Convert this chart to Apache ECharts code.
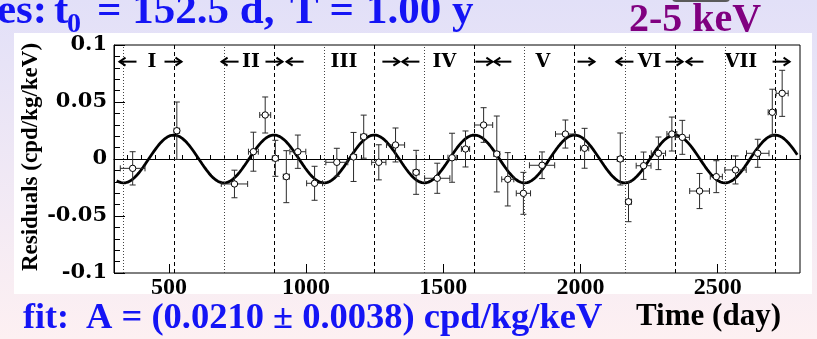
<!DOCTYPE html>
<html><head><meta charset="utf-8">
<script src="https://cdn.jsdelivr.net/npm/echarts@6/dist/echarts.min.js"></script>
<style>html,body{margin:0;padding:0;background:#fff;}#c{width:817px;height:339px;}</style>
</head><body><div id="c"></div>
<script>
// ---- data ----
const days      = [368, 529, 739, 808, 851, 888, 928, 970, 1031, 1112, 1173, 1210, 1265, 1326, 1401, 1478, 1532, 1581, 1647, 1695, 1735, 1792, 1860, 1945, 2015, 2145, 2175, 2230, 2284, 2333, 2371, 2434, 2495, 2565, 2646, 2699, 2735];
const residuals = [-0.0082, 0.0248, -0.0219, 0.0064, 0.0386, 0.0006, -0.0155, 0.0064, -0.0213, -0.0029, 0.0018, 0.0196, -0.0029, 0.0123, -0.0117, -0.0169, 0.0011, 0.0088, 0.0298, 0.0044, -0.0178, -0.0301, -0.0055, 0.0219, 0.0094, 0.0000, -0.0375, -0.0059, 0.0050, 0.0219, 0.0190, -0.0281, -0.0155, -0.0096, 0.0050, 0.0410, 0.0576];
const dayErr    = [45, 10, 48, 18, 20, 11, 11, 29, 29, 40, 11, 11, 26, 33, 11, 46, 15, 15, 33, 11, 22, 26, 46, 36, 15, 11, 11, 27, 26, 18, 26, 36, 22, 39, 41, 15, 22];
const resErr    = [0.0146, 0.0252, 0.0121, 0.0171, 0.0158, 0.0158, 0.0228, 0.0146, 0.0149, 0.0123, 0.0215, 0.0189, 0.0154, 0.0149, 0.0193, 0.0132, 0.0215, 0.0158, 0.0152, 0.0333, 0.0234, 0.0184, 0.0117, 0.0123, 0.0175, 0.0228, 0.0175, 0.0120, 0.0143, 0.0149, 0.0149, 0.0154, 0.0140, 0.0123, 0.0123, 0.0202, 0.0202];

// fit: A cos(2pi/T (t - t0))
const fitA = 0.0210, fitT0 = 152.5, fitPeriod = 365.25;
const fitStart = 310, fitEnd = 2790;

const peakDays   = [517.75, 883, 1248.25, 1613.5, 1978.75, 2344, 2709.25];
const troughDays = [335.1, 700.4, 1065.6, 1430.9, 1796.1, 2161.4, 2526.6];

const cycleNames = ['I', 'II', 'III', 'IV', 'V', 'VI', 'VII'];
const cycleStart = [320, 692, 929, 1351, 1686, 2131, 2386];
const cycleEnd   = [546, 914, 1340, 1679, 2051, 2372, 2762];
const cycleMid   = [438, 799, 1138, 1504, 1863, 2252, 2585];
const cycleLevel = 0.0854;

const xLabels = [500, 1000, 1500, 2000, 2500];
const yLabels = [-0.1, -0.05, 0, 0.05, 0.1];

// ---- build ----
const pts = days.map((d, i) => [d, residuals[i], dayErr[i], resErr[i]]);
const fit = [];
for (let t = fitStart; t <= fitEnd; t += 4) {
  fit.push([t, fitA * Math.cos(2 * Math.PI / fitPeriod * (t - fitT0))]);
}
const cycles = cycleNames.map((n, i) => [cycleStart[i], cycleEnd[i], cycleMid[i], cycleLevel, n]);

const serif = '"Liberation Serif", "Times New Roman", serif';
const wideSerif = '"DejaVu Serif", serif';
const blue = '#1414f5';

const chart = echarts.init(document.getElementById('c'), null, {renderer: 'canvas'});
const markLines = [];
peakDays.forEach(d => markLines.push({xAxis: d, lineStyle: {type: [4, 3], color: '#000', width: 1}}));
troughDays.forEach(d => markLines.push({xAxis: d, lineStyle: {type: [1, 2], color: '#444', width: 1}}));
markLines.push({yAxis: 0, lineStyle: {type: 'solid', color: '#000', width: 1}});

function t(text, x, y, size, fill) {
  return {type: 'text', style: {text: text, x: x, y: y, font: 'bold ' + size + 'px ' + serif, fill: fill, textVerticalAlign: 'middle'}};
}

chart.setOption({
  animation: false,
  backgroundColor: 'transparent',
  graphic: [
    {type: 'rect', z: -20, shape: {x: 0, y: 0, width: 817, height: 339},
     style: {fill: {type: 'linear', x: 0, y: 0, x2: 0, y2: 1,
       colorStops: [{offset: 0, color: '#e2e0f8'}, {offset: 1, color: '#fdf0f2'}]}}},
    {type: 'rect', z: -19, shape: {x: 672, y: -8, width: 58, height: 10, r: 4},
     style: {fill: '#5a5a5a'}},
    {type: 'rect', z: -18, shape: {x: 14, y: 33, width: 798, height: 261}, style: {fill: '#ffffff'}},
    // title pieces
    t('es:', -3, 12, 43, blue),
    t('t', 54, 12, 43, blue),
    t('0', 67, 25, 28, blue),
    t('= 152.5 d,', 97, 12, 43, blue),
    t('T =', 290, 12, 43, blue),
    t('1.00 y', 366, 12, 43, blue),
    t('2-5 keV', 629, 21, 40, '#800080'),
    // bottom texts
    t('fit:', 23, 319, 36, blue),
    t('A = (0.0210 \u00b1 0.0038) cpd/kg/keV', 86, 319, 36.5, blue),
    t('Time (day)', 636, 317, 31, '#000'),
    {type: 'text', x: 31, y: 157, rotation: Math.PI / 2,
     style: {text: 'Residuals (cpd/kg/keV)', x: 0, y: 0, font: 'bold 23px ' + serif, fill: '#000', textAlign: 'center', textVerticalAlign: 'middle'}}
  ],
  grid: {left: 114, top: 45, width: 686, height: 228, show: true, borderColor: '#000', borderWidth: 1, backgroundColor: 'transparent'},
  xAxis: [
    {type: 'value', min: 300, max: 2800, interval: 50,
     axisLine: {show: true, lineStyle: {color: '#000', width: 1}},
     axisTick: {show: true, inside: true, length: 4, lineStyle: {color: '#000'}},
     axisLabel: {margin: 3, color: '#000', fontFamily: serif, fontWeight: 'bold', fontSize: 24,
       formatter: v => (xLabels.indexOf(v) >= 0 ? String(v) : '')},
     splitLine: {show: false}},
    {type: 'value', min: 300, max: 2800, position: 'bottom',
     axisLine: {show: false},
     axisTick: {show: true, inside: true, length: 9, customValues: xLabels, lineStyle: {color: '#000'}},
     axisLabel: {show: false}, splitLine: {show: false}}
  ],
  yAxis: {type: 'value', min: -0.1, max: 0.1, interval: 0.05,
    axisLine: {show: true, lineStyle: {color: '#000', width: 1}},
    axisTick: {show: true, inside: true, length: 11, lineStyle: {color: '#000'}},
    minorTick: {show: true, splitNumber: 5, length: 6, lineStyle: {color: '#000'}},
    axisLabel: {margin: 7, color: '#000', fontFamily: wideSerif, fontWeight: 'bold', fontSize: 21,
      formatter: v => String(Math.round(v * 100) / 100)},
    splitLine: {show: false}},
  series: [
    {type: 'line', data: fit, showSymbol: false, symbol: 'none', smooth: false,
     lineStyle: {color: '#000', width: 2.8}, z: 3,
     markLine: {silent: true, symbol: 'none', label: {show: false}, data: markLines}},
    {type: 'custom', data: pts, encode: {x: 0, y: 1}, z: 5,
     renderItem: function (params, api) {
       const x = api.value(0), y = api.value(1), ex = api.value(2), ey = api.value(3);
       const c = api.coord([x, y]);
       const l = api.coord([x - ex, y])[0], r = api.coord([x + ex, y])[0];
       const tp = api.coord([x, y + ey])[1], b = api.coord([x, y - ey])[1];
       const cap = 3;
       const st = {stroke: '#2b2b2b', lineWidth: 1, fill: null};
       return {type: 'group', children: [
         {type: 'line', shape: {x1: l, y1: c[1], x2: r, y2: c[1]}, style: st},
         {type: 'line', shape: {x1: l, y1: c[1] - cap, x2: l, y2: c[1] + cap}, style: st},
         {type: 'line', shape: {x1: r, y1: c[1] - cap, x2: r, y2: c[1] + cap}, style: st},
         {type: 'line', shape: {x1: c[0], y1: tp, x2: c[0], y2: b}, style: st},
         {type: 'line', shape: {x1: c[0] - cap, y1: tp, x2: c[0] + cap, y2: tp}, style: st},
         {type: 'line', shape: {x1: c[0] - cap, y1: b, x2: c[0] + cap, y2: b}, style: st},
         {type: 'circle', shape: {cx: c[0], cy: c[1], r: 3.2}, style: {fill: '#fff', stroke: '#000', lineWidth: 1}}
       ]};
     }},
    {type: 'custom', data: cycles, encode: {x: 2, y: 3}, z: 6, silent: true,
     renderItem: function (params, api) {
       const s = api.coord([api.value(0), api.value(3)]);
       const e = api.coord([api.value(1), api.value(3)]);
       const m = api.coord([api.value(2), api.value(3)]);
       const L = 17, h = 4, hl = 6;
       const st = {stroke: '#000', lineWidth: 2, fill: null};
       return {type: 'group', children: [
         {type: 'line', shape: {x1: s[0], y1: s[1], x2: s[0] + L, y2: s[1]}, style: st},
         {type: 'polyline', shape: {points: [[s[0] + hl, s[1] - h], [s[0], s[1]], [s[0] + hl, s[1] + h]]}, style: st},
         {type: 'line', shape: {x1: e[0] - L, y1: e[1], x2: e[0], y2: e[1]}, style: st},
         {type: 'polyline', shape: {points: [[e[0] - hl, e[1] - h], [e[0], e[1]], [e[0] - hl, e[1] + h]]}, style: st},
         {type: 'text', style: {text: api.value(4), x: m[0], y: m[1], font: 'bold 19px ' + wideSerif, fill: '#000', textAlign: 'center', textVerticalAlign: 'middle'}}
       ]};
     }}
  ]
});
</script></body></html>
